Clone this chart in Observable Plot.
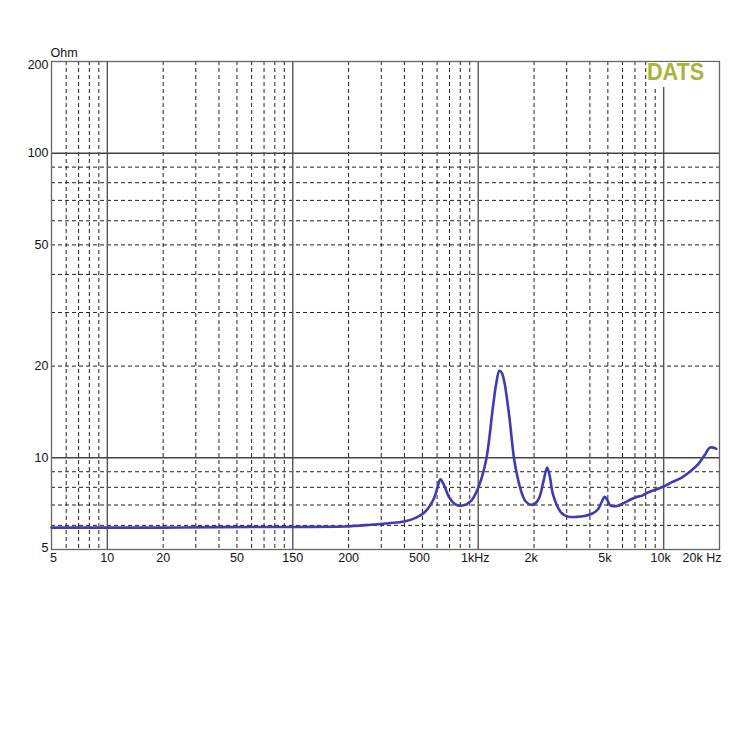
<!DOCTYPE html>
<html>
<head>
<meta charset="utf-8">
<script src="https://cdn.jsdelivr.net/npm/d3@7"></script>
<script src="https://cdn.jsdelivr.net/npm/@observablehq/plot@0.6"></script>
<style>
  html, body { margin: 0; padding: 0; background: #fff; }
  #wrap { position: relative; width: 750px; height: 750px; }
  #logoBox { position: absolute; left: 648px; top: 62px; width: 70px; height: 25px; background: #fff; }
  #logo { position: absolute; left: 647px; top: 59px; font-family: "Liberation Sans", Arial, sans-serif;
          font-weight: bold; font-size: 23px; color: #a9b53a; transform: scaleX(0.94); transform-origin: left top; letter-spacing: 0px; }
</style>
</head>
<body>
<div id="wrap"><div id="chart"></div><div id="logoBox"></div><div id="logo">DATS</div></div>
<script>
// Impedance curve (Hz, Ohm)
const freq = [5, 10, 20, 40, 100, 190, 264, 330, 399, 460, 512, 569, 600, 625, 650, 698, 750, 807, 915, 1000,
  1101, 1199, 1250, 1300, 1340, 1384, 1472, 1567, 1702, 1800, 1926, 2040, 2137, 2250, 2354, 2440, 2527, 2800,
  3046, 3400, 3740, 4100, 4426, 4650, 4800, 4950, 5173, 5675, 6100, 6680, 7200, 7600, 8220, 9000, 10000,
  11000, 12450, 14000, 15350, 16800, 17700, 18500, 19230];
const ohm = [5.9, 5.9, 5.9, 5.92, 5.93, 5.95, 6.03, 6.1, 6.18, 6.35, 6.61, 7.22, 7.9, 8.5, 8.2, 7.41, 7.05, 6.96, 7.22, 7.98,
  9.78, 14.6, 17.5, 19.3, 19.0, 17.7, 13.6, 9.78, 7.79, 7.2, 7.01, 7.1, 7.41, 8.4, 9.29, 8.6, 7.6, 6.61,
  6.41, 6.40, 6.44, 6.55, 6.78, 7.2, 7.45, 7.3, 6.96, 6.96, 7.1, 7.31, 7.45, 7.5, 7.69, 7.85, 8.05,
  8.3, 8.6, 9.05, 9.53, 10.3, 10.8, 10.8, 10.7];

// Grid lines
const xMajor = [10, 100, 1000, 10000];
const xMinor = [6, 7, 8, 9, 20, 30, 40, 50, 60, 70, 80, 90, 200, 300, 400, 500, 600, 700, 800, 900,
  2000, 3000, 4000, 5000, 6000, 7000, 8000, 9000];
const yMajor = [10, 100];
const yMinor = [6, 7, 8, 9, 20, 30, 40, 50, 60, 70, 80, 90];

// Tick labels
const xTickVals = [5, 10, 20, 50, 100, 200, 500, 1000, 2000, 5000, 10000, 20000];
const xTickText = ["5", "10", "20", "50", "150", "200", "500", "1kHz", "2k", "5k", "10k", "20k Hz"];
const yTickVals = [200, 100, 50, 20, 10, 5];
const yTickText = ["200", "100", "50", "20", "10", "5"];
const yUnit = "Ohm";

const curve = freq.map((f, i) => ({f, z: ohm[i]}));
const xt = xTickVals.map((v, i) => ({v, t: xTickText[i]}));
const yt = yTickVals.map((v, i) => ({v, t: yTickText[i]}));

const font = "Liberation Sans, Arial, sans-serif";
const txt = {fontSize: 12.5, fill: "#111", fontFamily: font};

const chart = Plot.plot({
  width: 750,
  height: 750,
  marginTop: 61,
  marginBottom: 201,
  marginLeft: 51,
  marginRight: 31,
  style: {fontFamily: font, fontSize: "12px", background: "#fff"},
  x: {type: "log", domain: [5, 20000], axis: null},
  y: {type: "log", domain: [5, 200], axis: null},
  marks: [
    Plot.ruleX(xMinor, {x: d => d, stroke: "#222", strokeWidth: 1, strokeDasharray: "4,3"}),
    Plot.ruleY(yMinor, {y: d => d, stroke: "#222", strokeWidth: 1, strokeDasharray: "4,3"}),
    Plot.ruleX(xMajor, {x: d => d, stroke: "#555", strokeWidth: 1.4}),
    Plot.ruleY(yMajor, {y: d => d, stroke: "#444", strokeWidth: 1.4}),
    Plot.frame({stroke: "#666", strokeWidth: 1.3}),
    Plot.line(curve, {x: "f", y: "z", stroke: "#3d3db2", strokeWidth: 2.6, curve: "catmull-rom"}),
    // x labels
    Plot.text(xt.filter(d => d.v === 5), {x: "v", text: "t", frameAnchor: "bottom", dy: 12, dx: 2, ...txt}),
    Plot.text(xt.filter(d => d.v > 5 && d.v < 500), {x: "v", text: "t", frameAnchor: "bottom", dy: 12, ...txt}),
    Plot.text(xt.filter(d => d.v >= 500 && d.v < 20000), {x: "v", text: "t", frameAnchor: "bottom", dy: 12, dx: -3, ...txt}),
    Plot.text(xt.filter(d => d.v === 20000), {x: "v", text: "t", frameAnchor: "bottom", dy: 12, dx: 2, textAnchor: "end", ...txt}),
    // y labels
    Plot.text(yt.filter(d => d.v === 200), {y: "v", text: "t", frameAnchor: "left", dx: -3, dy: 3, textAnchor: "end", ...txt}),
    Plot.text(yt.filter(d => d.v < 200 && d.v > 5), {y: "v", text: "t", frameAnchor: "left", dx: -3, textAnchor: "end", ...txt}),
    Plot.text(yt.filter(d => d.v === 5), {y: "v", text: "t", frameAnchor: "left", dx: -3, dy: -2, textAnchor: "end", ...txt}),
    Plot.text([yUnit], {text: d => d, frameAnchor: "top-left", dy: -13, dx: -1, textAnchor: "start", ...txt})
  ]
});
document.getElementById("chart").appendChild(chart);
</script>
</body>
</html>
